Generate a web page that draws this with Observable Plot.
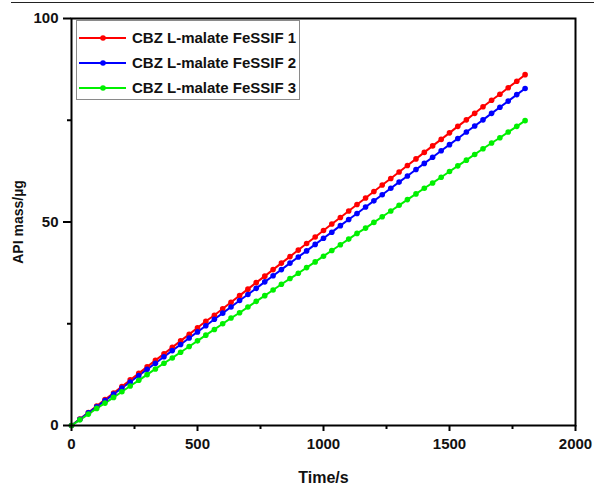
<!DOCTYPE html>
<html>
<head>
<meta charset="utf-8">
<script src="https://cdn.jsdelivr.net/npm/d3@7"></script>
<script src="https://cdn.jsdelivr.net/npm/@observablehq/plot@0.6"></script>
<style>
  body { margin: 0; background: #fff; }
  #wrap { position: relative; width: 594px; height: 485px; font-family: "Liberation Sans", Arial, sans-serif; }
  #rule { position: absolute; left: 11px; top: 2px; width: 583px; height: 0; border-top: 1.5px solid #222; }
  #legend { position: absolute; left: 76px; top: 20px; width: 224px; height: 80px; border: 1px solid #8a8a8a; background: #fff; box-sizing: border-box; }
  #legend .row { position: absolute; left: 0; height: 20px; width: 100%; }
  #legend .txt { position: absolute; left: 55px; top: 0; font-weight: bold; font-size: 15px; line-height: 20px; color: #111; white-space: nowrap; }
  #legend svg { position: absolute; left: 1px; top: 0; }
  #ylab { position: absolute; left: 18px; top: 222px; transform: translate(-50%, -50%) rotate(-90deg); font-weight: bold; font-size: 14px; white-space: nowrap; color: #111; }
  svg text { font-weight: bold; }
</style>
</head>
<body>
<div id="wrap">
  <div id="rule"></div>
  <div id="ylab">API mass/µg</div>
</div>
<script>
const seriesNames = ["CBZ L-malate FeSSIF 1", "CBZ L-malate FeSSIF 2", "CBZ L-malate FeSSIF 3"];
const seriesColors = ["#ff0000", "#0000ff", "#00f000"];
const timeS = [0,33,67,100,133,167,200,233,267,300,333,367,400,433,467,500,533,567,600,633,667,700,733,767,800,833,867,900,933,967,1000,1033,1067,1100,1133,1167,1200,1233,1267,1300,1333,1367,1400,1433,1467,1500,1533,1567,1600,1633,1667,1700,1733,1767,1800];
const mass1 = [0,1.6,3.2,4.8,6.4,8.0,9.6,11.2,12.8,14.4,16.0,17.6,19.2,20.8,22.4,24.0,25.6,27.1,28.7,30.3,31.9,33.5,35.1,36.7,38.3,39.9,41.5,43.1,44.7,46.3,47.9,49.5,51.1,52.7,54.3,55.9,57.5,59.1,60.7,62.3,63.9,65.5,67.1,68.7,70.3,71.9,73.5,75.1,76.7,78.3,79.9,81.4,83.0,84.6,86.2];
const mass2 = [0,1.5,3.1,4.6,6.1,7.7,9.2,10.7,12.3,13.8,15.3,16.9,18.4,19.9,21.5,23.0,24.5,26.1,27.6,29.1,30.7,32.2,33.7,35.3,36.8,38.3,39.9,41.4,42.9,44.5,46.0,47.5,49.1,50.6,52.1,53.7,55.2,56.7,58.3,59.8,61.3,62.9,64.4,65.9,67.5,69.0,70.5,72.1,73.6,75.1,76.7,78.2,79.7,81.3,82.8];
const mass3 = [0,1.4,2.8,4.2,5.5,6.9,8.3,9.7,11.1,12.5,13.9,15.3,16.6,18.0,19.4,20.8,22.2,23.6,25.0,26.4,27.7,29.1,30.5,31.9,33.3,34.7,36.1,37.4,38.8,40.2,41.6,43.0,44.4,45.8,47.2,48.5,49.9,51.3,52.7,54.1,55.5,56.9,58.3,59.6,61.0,62.4,63.8,65.2,66.6,68.0,69.4,70.7,72.1,73.5,74.9];
const xMajor = [0, 500, 1000, 1500, 2000];
const xMinor = [250, 750, 1250, 1750];
const yMajor = [0, 50, 100];
const yMinor = [25, 75];

const allMass = [mass1, mass2, mass3];
const data = [];
allMass.forEach((arr, k) => arr.forEach((v, i) => data.push({t: timeS[i], m: v, s: seriesNames[k]})));

const colorScale = {domain: seriesNames, range: seriesColors};
const fmt = d => String(d);

const chart = Plot.plot({
  width: 594, height: 485,
  marginLeft: 71, marginRight: 19, marginTop: 18, marginBottom: 60,
  x: {domain: [0, 2000]},
  y: {domain: [0, 100]},
  color: colorScale,
  style: {fontFamily: "'Liberation Sans', Arial, sans-serif", fontWeight: "bold", fontSize: "15px", color: "#111", background: "transparent"},
  marks: [
    Plot.line(data, {x: "t", y: "m", z: "s", stroke: "s", strokeWidth: 2}),
    Plot.dot(data, {x: "t", y: "m", fill: "s", r: 2.8}),
    Plot.frame({stroke: "#000", strokeWidth: 2}),
    Plot.axisX({ticks: xMajor, tickFormat: fmt, tickSize: 6, tickPadding: 7, stroke: "#000", strokeWidth: 2, fontSize: 15, fontWeight: "bold", label: null}),
    Plot.axisX({ticks: xMinor, tickSize: 4, text: null, stroke: "#000", strokeWidth: 2, label: null}),
    Plot.axisY({ticks: yMajor, tickFormat: fmt, tickSize: 8, tickPadding: 5, stroke: "#000", strokeWidth: 2, fontSize: 15, fontWeight: "bold", label: null}),
    Plot.axisY({ticks: yMinor, tickSize: 4, text: null, stroke: "#000", strokeWidth: 2, label: null}),
    Plot.text(["Time/s"], {frameAnchor: "bottom", dy: 52, lineAnchor: "middle", fontSize: 16, fontWeight: "bold"})
  ]
});
chart.style.position = "absolute";
chart.style.left = "0px";
chart.style.top = "0px";
const wrap = document.getElementById("wrap");
wrap.insertBefore(chart, wrap.firstChild);

const legend = document.createElement("div");
legend.id = "legend";
const rowTops = [7, 32, 57];
seriesNames.forEach((name, k) => {
  const row = document.createElement("div");
  row.className = "row";
  row.style.top = rowTops[k] + "px";
  row.innerHTML = `<svg width="50" height="20"><line x1="1" x2="48" y1="10" y2="10" stroke="${seriesColors[k]}" stroke-width="2"/><circle cx="25" cy="10" r="2.8" fill="${seriesColors[k]}"/></svg><span class="txt">${name}</span>`;
  legend.appendChild(row);
});
wrap.appendChild(legend);
</script>
</body>
</html>
